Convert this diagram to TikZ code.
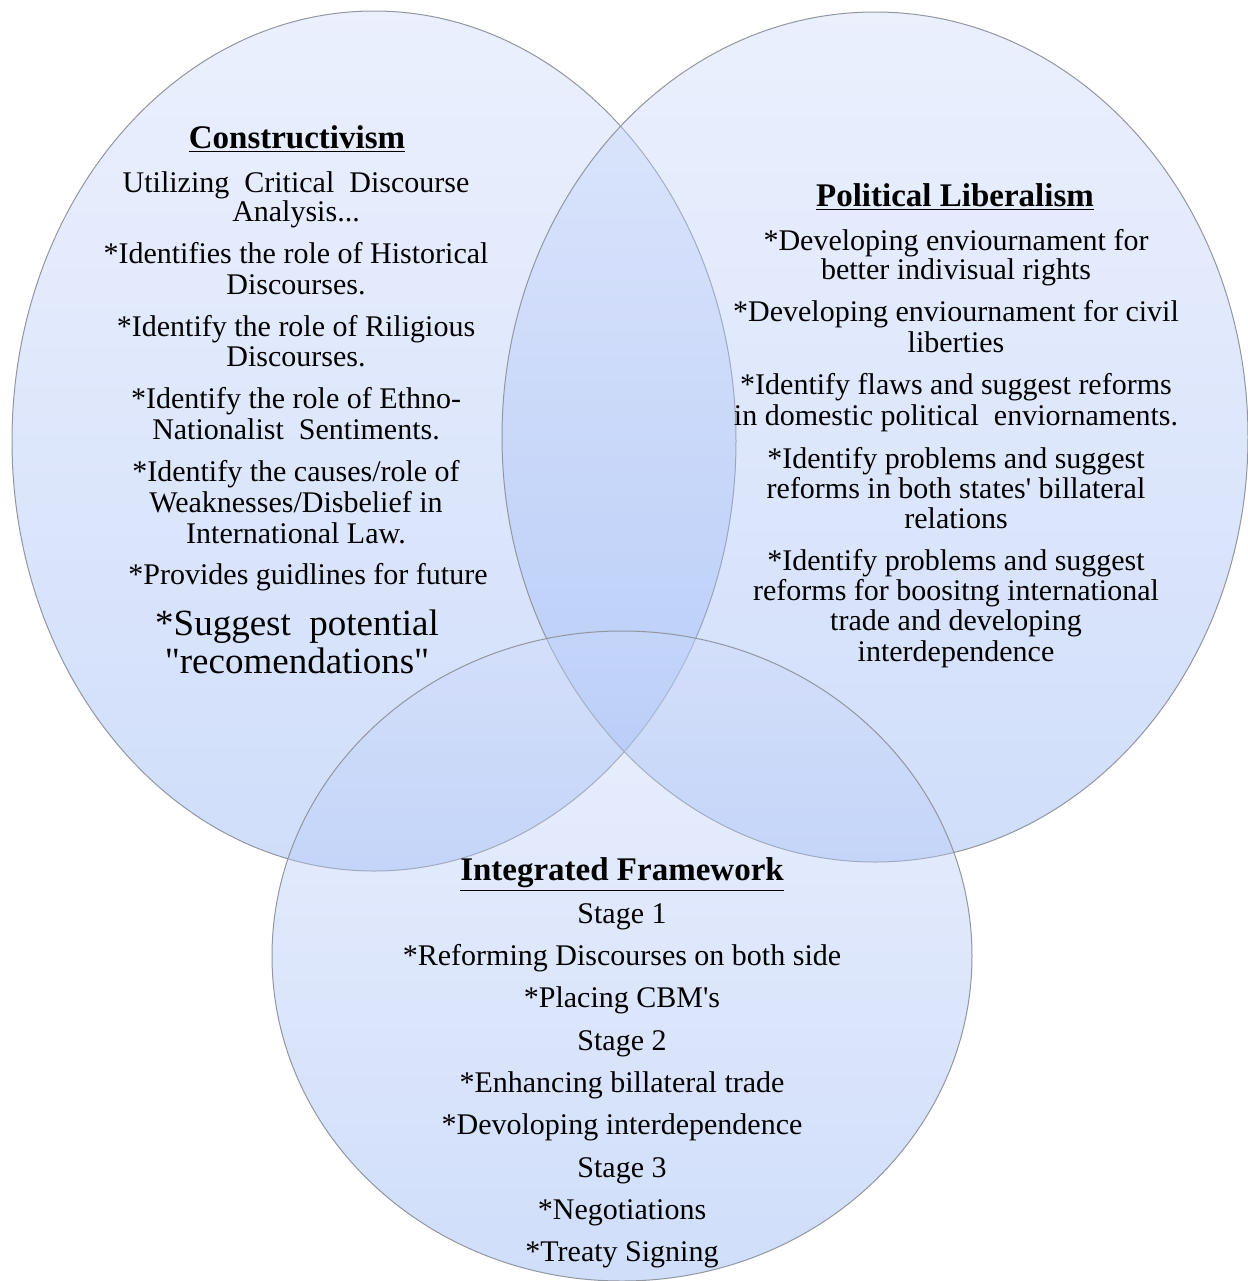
\documentclass[tikz,border=0pt]{standalone}
\usepackage{fontspec}
\setmainfont{Liberation Serif}
\usepackage{xcolor}
\definecolor{venntop}{RGB}{205,217,250}
\definecolor{vennbot}{RGB}{137,172,242}
\definecolor{vennedge}{RGB}{145,150,160}

\tikzset{
  venn/.style={top color=venntop, bottom color=vennbot, fill opacity=0.4,
    draw=vennedge, draw opacity=1, line width=0.5pt},
  head/.style={font=\fontsize{16.5}{18}\selectfont\bfseries, inner sep=0pt, anchor=base},
  item/.style={font=\fontsize{15}{16}\selectfont, inner sep=0pt, anchor=base},
  bigitem/.style={font=\fontsize{18.5}{20}\selectfont, inner sep=0pt, anchor=base}
}

\begin{document}
\begin{tikzpicture}[x=0.5pt, y=-0.5pt]
  \useasboundingbox (0,0) rectangle (1248,1281);

  % the three sets
  \shade[venn] (374,441) ellipse (362 and 430);
  \shade[venn] (875,437) ellipse (373 and 425);
  \shade[venn] (622,956) ellipse (350 and 325);

  % LEFT: Constructivism
  \node[head] (con-head) at (297,148) {\underline{Constructivism}};
  \foreach \y/\t [count=\i] in {%
    192/{Utilizing\ \ Critical\ \ Discourse}, 221/{Analysis...},
    263/{*Identifies the role of Historical}, 294/{Discourses.},
    336/{*Identify the role of Riligious}, 366/{Discourses.},
    408/{*Identify the role of Ethno-}, 439/{Nationalist\ \ Sentiments.},
    481/{*Identify the causes/role of}, 512/{Weaknesses/Disbelief in},
    543/{International Law.}}
    \node[item] (con-\i) at (296,\y) {\t};
  \node[item] (con-guide) at (308,584) {*Provides guidlines for future};
  \node[bigitem] (con-sugg) at (297,635) {*Suggest\ \ potential};
  \node[bigitem] (con-reco) at (297,673) {\textquotedbl recomendations\textquotedbl};

  % RIGHT: Political Liberalism
  \node[head] (lib-head) at (955,206) {\underline{Political Liberalism}};
  \foreach \y/\t [count=\i] in {%
    250/{*Developing enviournament for}, 279/{better indivisual rights},
    321/{*Developing enviournament for civil}, 352/{liberties},
    394/{*Identify flaws and suggest reforms}, 425/{in domestic political\ \ enviornaments.},
    468/{*Identify problems and suggest}, 498/{reforms in both states\textquotesingle\ billateral},
    528/{relations},
    570/{*Identify problems and suggest}, 600/{reforms for boositng international},
    630/{trade and developing}, 661/{interdependence}}
    \node[item] (lib-\i) at (956,\y) {\t};

  % BOTTOM: Integrated Framework
  \node[head] (int-head) at (622,880) {\underline{Integrated Framework}};
  \foreach \y/\t [count=\i] in {%
    923/{Stage 1}, 965/{*Reforming Discourses on both side}, 1007/{*Placing CBM\textquotesingle s},
    1050/{Stage 2}, 1092/{*Enhancing billateral trade}, 1134/{*Devoloping interdependence},
    1177/{Stage 3}, 1219/{*Negotiations}, 1261/{*Treaty Signing}}
    \node[item] (int-\i) at (622,\y) {\t};
\end{tikzpicture}
\end{document}
